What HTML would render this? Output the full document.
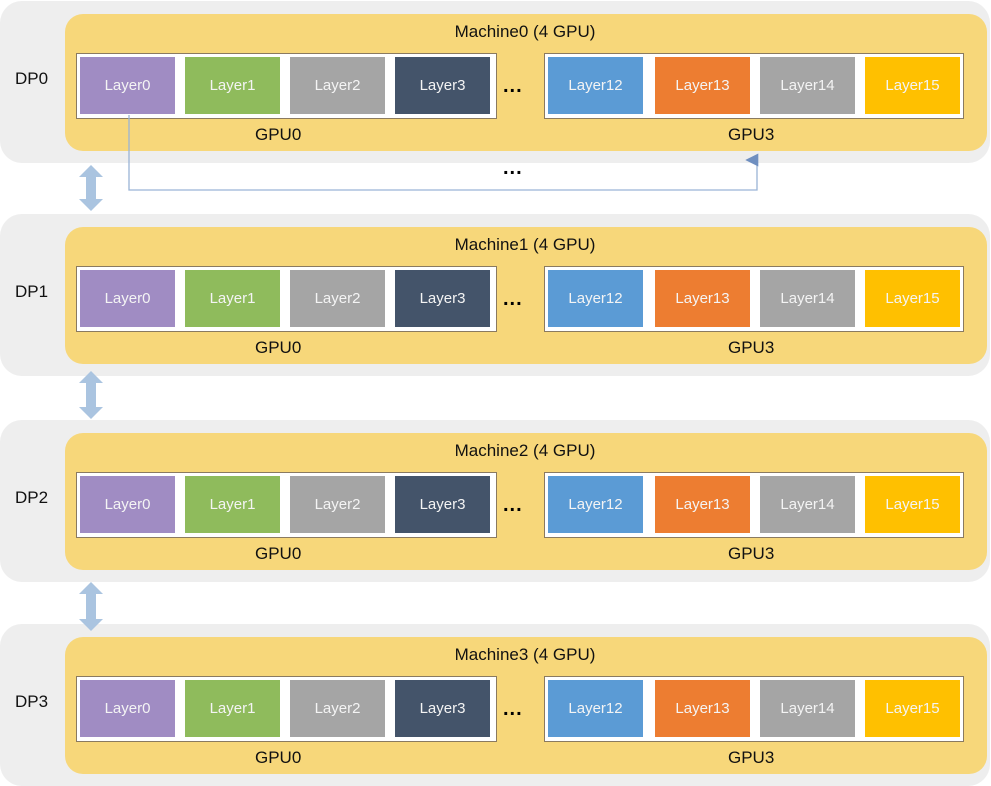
<!DOCTYPE html><html><head><style>
body{margin:0;width:991px;height:786px;background:#fff;font-family:"Liberation Sans",sans-serif;position:relative;overflow:hidden}
.a{position:absolute}
.g{background:#eeeeee;border-radius:22px;left:0;width:990px;height:162px}
.y{background:#f7d77a;border-radius:18px;left:65px;width:922px;height:137px}
.b{background:#fff;border:1px solid #8a7a60;height:64px}
.l{width:95px;height:57px;color:#f4f4f4;font-size:15px;display:flex;align-items:center;justify-content:center}
.t{font-size:17px;color:#111}
.d{font-size:20px;font-weight:bold;letter-spacing:1px}
</style></head><body>
<div id="root"></div>
<svg class="a" style="left:0;top:0" width="991" height="786">
<defs><marker id="m" markerWidth="10" markerHeight="10" refX="5" refY="9" orient="auto"><path d="M0,10 L5,0 L10,10z" fill="#6f8fc0"/></marker></defs>
</svg>
<script>
var offs=[0,213,419,623],h='';
var cols=['#a08cc3','#8fbb5c','#a5a5a5','#44546a','#5b9bd5','#ed7d31','#a5a5a5','#ffc000'];
var names=['Layer0','Layer1','Layer2','Layer3','Layer12','Layer13','Layer14','Layer15'];
var xs=[80,185,290,395,548,655,760,865];
offs.forEach(function(o,i){
h+='<div class="a g" style="top:'+(o+1)+'px"></div>';
h+='<div class="a y" style="top:'+(o+14)+'px"></div>';
h+='<div class="a t" style="left:0;width:1050px;text-align:center;top:'+(o+22)+'px">Machine'+i+' (4 GPU)</div>';
h+='<div class="a t" style="left:15px;top:'+(o+69)+'px">DP'+i+'</div>';
h+='<div class="a b" style="left:76px;width:419px;top:'+(o+53)+'px"></div>';
h+='<div class="a b" style="left:544px;width:418px;top:'+(o+53)+'px"></div>';
for(var k=0;k<8;k++)h+='<div class="a l" style="left:'+xs[k]+'px;top:'+(o+57)+'px;background:'+cols[k]+'">'+names[k]+'</div>';
h+='<div class="a d" style="left:503px;top:'+(o+75)+'px">...</div>';
h+='<div class="a t" style="left:255px;top:'+(o+125)+'px">GPU0</div>';
h+='<div class="a t" style="left:728px;top:'+(o+125)+'px">GPU3</div>';
});
h+='<div class="a d" style="left:503px;top:157px">...</div>';
document.getElementById('root').innerHTML=h;
var s=document.querySelector('svg'),sv='';
sv+='<polyline points="129,115 129,190 757,190 757,160" fill="none" stroke="#9ab4d6" stroke-width="1.3" marker-end="url(#m)"/>';
[[165,211],[371,419],[582,631]].forEach(function(p){var a=p[0],b=p[1];
sv+='<polygon points="91,'+a+' 103,'+(a+12)+' 96,'+(a+12)+' 96,'+(b-12)+' 103,'+(b-12)+' 91,'+b+' 79,'+(b-12)+' 86,'+(b-12)+' 86,'+(a+12)+' 79,'+(a+12)+'" fill="#aac4e0"/>';});
s.innerHTML+=sv;
</script>
</body></html>
